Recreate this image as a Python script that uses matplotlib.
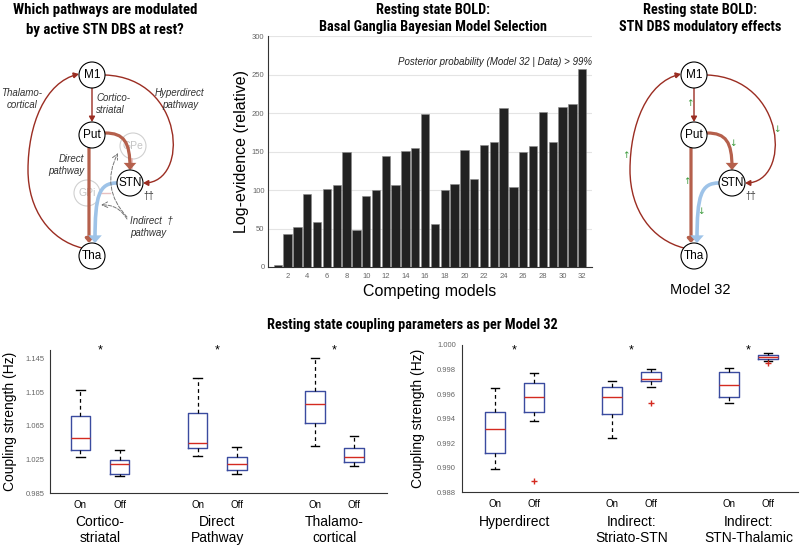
import numpy as np
import matplotlib
matplotlib.use("Agg")
import matplotlib.pyplot as plt
from matplotlib import font_manager
from matplotlib.font_manager import FontProperties
from matplotlib.patches import Circle, FancyArrowPatch
from matplotlib.path import Path

plt.rcParams["font.family"] = ["Liberation Sans", "DejaVu Sans"]

# condensed bold face for the panel titles, if one is installed
_files = [f.fname for f in font_manager.fontManager.ttflist]
_title_file, _title_scale = None, 1.0
for key, scale in [("LiberationSansNarrow-Bold.", 1.0), ("RobotoCondensed-Bold.", 1.0),
                   ("DejaVuSansCondensed-Bold.", 0.93)]:
    hits = [p for p in _files if key in p]
    if hits:
        _title_file, _title_scale = hits[0], scale
        break


def title_kw(size):
    if _title_file:
        return dict(fontproperties=FontProperties(fname=_title_file, size=size * _title_scale))
    return dict(fontweight="bold", fontsize=size * 0.85)


# ---------------- data ----------------
models = list(range(1, 33))
log_evidence = [2, 43, 52, 95, 58, 101, 106, 150, 48, 92, 100, 144, 107, 151, 155, 199,
                56, 100, 108, 152, 114, 158, 162, 207, 104, 150, 157, 202, 163, 208, 212, 257]
model_ticks = list(range(2, 33, 2))

box_positions = [1, 2, 4, 5, 7, 8]
box_ticklabels = ["On", "Off", "On", "Off", "On", "Off"]
group_centers = [1.5, 4.5, 7.5]

left_groups = ["Cortico-\nstriatal", "Direct\nPathway", "Thalamo-\ncortical"]
left_whislo = [1.0277, 1.0047, 1.0292, 1.0079, 1.0403, 1.0170]
left_q1     = [1.0367, 1.0079, 1.0383, 1.0126, 1.0680, 1.0221]
left_med    = [1.0498, 1.0190, 1.0446, 1.0190, 1.0909, 1.0280]
left_q3     = [1.0763, 1.0245, 1.0802, 1.0280, 1.1063, 1.0387]
left_whishi = [1.1075, 1.0356, 1.1217, 1.0395, 1.1454, 1.0533]
left_fliers = [[], [], [], [], [], []]
left_yticks = [0.985, 1.025, 1.065, 1.105, 1.145]

right_groups = ["Hyperdirect", "Indirect:\nStriato-STN", "Indirect:\nSTN-Thalamic"]
right_whislo = [0.98990, 0.99381, 0.99245, 0.99655, 0.99530, 0.99870]
right_q1     = [0.99118, 0.99457, 0.99438, 0.99707, 0.99574, 0.99883]
right_med    = [0.99316, 0.99579, 0.99579, 0.99726, 0.99674, 0.99900]
right_q3     = [0.99452, 0.99693, 0.99661, 0.99780, 0.99777, 0.99916]
right_whishi = [0.99647, 0.99769, 0.99704, 0.99802, 0.99810, 0.99938]
right_fliers = [[], [0.98892], [], [0.99530], [], [0.99850]]
right_yticks = [0.988, 0.990, 0.992, 0.994, 0.996, 0.998, 1.000]

# ---------------- style ----------------
BLUE = "#3a4b9f"
RED = "#d42a20"
DARKRED = "#9b2d22"
THICK = "#b5604c"
LIGHTBLUE = "#9ec3e8"
GREEN = "#3a9a3a"
TICKGRAY = "#666666"

fig = plt.figure(figsize=(8, 5.49), dpi=100)

# overlay axes in pixel coordinates for diagrams and titles
ax_d = fig.add_axes([0, 0, 1, 1])
ax_d.set_xlim(0, 800)
ax_d.set_ylim(549, 0)
ax_d.axis("off")

C4 = Path.CURVE4


def curve(ax, pts, color, lw, ms, hw=0.25):
    codes = [Path.MOVETO] + [C4] * (len(pts) - 1)
    ax.add_patch(FancyArrowPatch(path=Path(pts, codes),
                                 arrowstyle=f"-|>,head_length=0.45,head_width={hw}",
                                 mutation_scale=ms, color=color, lw=lw,
                                 joinstyle="miter"))


def straight(ax, p0, p1, color, lw, ms, hw=0.25):
    ax.add_patch(FancyArrowPatch(p0, p1, arrowstyle=f"-|>,head_length=0.45,head_width={hw}",
                                 mutation_scale=ms, color=color, lw=lw,
                                 shrinkA=0, shrinkB=0))


def draw_circuit(ax, dx, show_hidden):
    nodes = {"M1": (92 + dx, 75), "Put": (92 + dx, 135),
             "STN": (130 + dx, 183), "Tha": (92 + dx, 256)}
    s = lambda x, y: (x + dx, y)

    if show_hidden:
        for name, (x, y) in {"GPe": (133, 146), "GPi": (87, 193)}.items():
            ax.add_patch(Circle((x, y), 13, fc="white", ec="#d0d0d0", lw=0.8, zorder=1))
            ax.text(x, y, name, ha="center", va="center", fontsize=7.5,
                    color="#c4c4c4", zorder=1)
        ax.plot([132, 132], [159, 168], color="#e8b8b8", lw=1.2, zorder=1)
        ax.plot([101, 110], [193, 193], color="#e8c0c0", lw=1.0, zorder=1)

    # thalamo-cortical loop (two segments) and hyperdirect loop
    curve(ax, [s(82, 248), s(50, 240), s(28, 210), s(28, 170),
               s(28, 125), s(45, 82), s(79, 74)], DARKRED, 1.0, 7)
    curve(ax, [s(105, 75), s(185, 78), s(190, 183), s(143, 183)], DARKRED, 1.0, 7)
    # cortico-striatal
    straight(ax, s(92, 88), s(92, 122), DARKRED, 1.0, 7)
    # direct pathway
    straight(ax, s(89, 148), s(89, 243), THICK, 2.3, 5, 0.4)
    # striato-STN
    curve(ax, [s(105, 133), s(124, 133), s(130, 142), s(130, 170)], THICK, 2.3, 5, 0.4)
    # STN-thalamic
    curve(ax, [s(117, 183), s(99, 183), s(95, 195), s(95, 243)], LIGHTBLUE, 2.6, 5, 0.4)

    for name, (x, y) in nodes.items():
        ax.add_patch(Circle((x, y), 13, fc="white", ec="black", lw=0.8, zorder=3))
        ax.text(x, y, name, ha="center", va="center", fontsize=8.5, zorder=4)
    ax.text(143 + dx, 196, "††", fontsize=7, ha="left", va="center", color="#333333")


draw_circuit(ax_d, 0, True)
draw_circuit(ax_d, 602, False)

# labels of left diagram
lab = dict(fontsize=7, style="italic", color="#333333")
ax_d.text(22, 99, "Thalamo-\ncortical", ha="center", va="center", **lab)
ax_d.text(96, 104, "Cortico-\nstriatal", ha="left", va="center", **lab)
ax_d.text(180, 99, "Hyperdirect\npathway", ha="center", va="center", **lab)
ax_d.text(84, 165, "Direct\npathway", ha="right", va="center", **lab)
ax_d.text(130, 227, "Indirect  †\npathway", ha="left", va="center", **lab)
ax_d.annotate("", xy=(118, 153), xytext=(127, 217),
              arrowprops=dict(arrowstyle="->", ls="--", color="#777777", lw=0.7,
                              connectionstyle="arc3,rad=-0.35", shrinkA=0, shrinkB=0))
ax_d.annotate("", xy=(101, 205), xytext=(127, 219),
              arrowprops=dict(arrowstyle="->", ls="--", color="#777777", lw=0.7,
                              connectionstyle="arc3,rad=0.3", shrinkA=0, shrinkB=0))

# green modulation arrows of right diagram
for (x, y, sym) in [(690, 103, "↑"), (626, 155, "↑"), (777, 130, "↓"),
                    (733, 143, "↓"), (687, 182, "↑"), (701, 211, "↓")]:
    ax_d.text(x, y, sym, color=GREEN, fontsize=6.5, ha="center", va="center",
              family=["DejaVu Sans"])

# titles
tc = dict(ha="center", va="center")
ax_d.text(105, 10, "Which pathways are modulated", **tc, **title_kw(10.7))
ax_d.text(105, 30, "by active STN DBS at rest?", **tc, **title_kw(10.7))
ax_d.text(433, 10, "Resting state BOLD:", **tc, **title_kw(10.3))
ax_d.text(433, 27, "Basal Ganglia Bayesian Model Selection", **tc, **title_kw(10.3))
ax_d.text(700, 10, "Resting state BOLD:", **tc, **title_kw(10.3))
ax_d.text(700, 27, "STN DBS modulatory effects", **tc, **title_kw(10.3))
ax_d.text(412, 325, "Resting state coupling parameters as per Model 32", **tc, **title_kw(10.3))
ax_d.text(700, 290, "Model 32", fontsize=10.5, ha="center", va="center")

# ---------------- bar chart ----------------
ax_b = fig.add_axes([0.335, 0.5137, 0.405, 0.4203])
ax_b.bar(models, log_evidence, width=0.86, color="#222222", edgecolor="#8a8a8a", lw=0.4, zorder=3)
ax_b.set_xlim(0, 33)
ax_b.set_ylim(0, 300)
ax_b.set_xticks(model_ticks)
ax_b.set_yticks(range(0, 301, 50))
ax_b.yaxis.grid(True, color="#e4e4e4", lw=0.8)
ax_b.set_axisbelow(True)
for sp in ["top", "right"]:
    ax_b.spines[sp].set_visible(False)
for sp in ["left", "bottom"]:
    ax_b.spines[sp].set_color("#333333")
    ax_b.spines[sp].set_linewidth(0.8)
ax_b.tick_params(axis="y", length=0, labelsize=5.5, labelcolor=TICKGRAY, pad=2.5)
ax_b.tick_params(axis="x", length=0, labelsize=5.5, labelcolor=TICKGRAY, pad=4)
ax_b.set_ylabel("Log-evidence (relative)", fontsize=11.5)
ax_b.yaxis.set_label_coords(-0.06, 0.5)
ax_b.set_xlabel("Competing models", fontsize=11.5, labelpad=3)
ax_b.text(1.0, 0.89, "Posterior probability (Model 32 | Data) > 99%", transform=ax_b.transAxes,
          ha="right", va="center", fontsize=7, style="italic", color="#222222")


# ---------------- box plots ----------------
def make_stats(lo, q1, med, q3, hi, fl):
    return [dict(whislo=a, q1=b, med=c, q3=d, whishi=e, fliers=f)
            for a, b, c, d, e, f in zip(lo, q1, med, q3, hi, fl)]


def box_panel(ax, stats, groups, yticks, ylim, xlim, fmt, star_y, label_x):
    ax.bxp(stats, positions=box_positions, widths=0.5, capwidths=0.22,
           boxprops=dict(color=BLUE, lw=1.0),
           medianprops=dict(color=RED, lw=1.0),
           whiskerprops=dict(color="black", ls=(0, (3, 2.5)), lw=0.9),
           capprops=dict(color="black", lw=1.0),
           flierprops=dict(marker="+", markeredgecolor=RED, markersize=5, mew=1.0))
    ax.set_xlim(*xlim)
    ax.set_ylim(*ylim)
    ax.set_yticks(yticks)
    ax.set_yticklabels([fmt.format(v) for v in yticks])
    ax.set_xticks(box_positions)
    ax.set_xticklabels(box_ticklabels, fontsize=7)
    for sp in ["top", "right"]:
        ax.spines[sp].set_visible(False)
    for sp in ["left", "bottom"]:
        ax.spines[sp].set_color("#333333")
        ax.spines[sp].set_linewidth(0.8)
    ax.tick_params(axis="y", length=0, labelsize=5.5, labelcolor=TICKGRAY, pad=4)
    ax.tick_params(axis="x", length=0, pad=5)
    ax.set_ylabel("Coupling strength (Hz)", fontsize=10)
    ax.yaxis.set_label_coords(label_x, 0.5)
    for xc, g in zip(group_centers, groups):
        ax.annotate(g, xy=(xc, 0), xycoords=("data", "axes fraction"),
                    xytext=(0, -16), textcoords="offset points",
                    ha="center", va="top", fontsize=10)
        ax.annotate("*", xy=(xc, star_y), xycoords=("data", "axes fraction"),
                    ha="center", va="center", fontsize=9, annotation_clip=False)


ax_l = fig.add_axes([0.0625, 0.102, 0.421, 0.2605])
box_panel(ax_l, make_stats(left_whislo, left_q1, left_med, left_q3, left_whishi, left_fliers),
          left_groups, left_yticks, (0.985, 1.155), (0.22, 8.84), "{:.3f}", 1.0, -0.098)

ax_r = fig.add_axes([0.577, 0.1033, 0.42, 0.2683])
box_panel(ax_r, make_stats(right_whislo, right_q1, right_med, right_q3, right_whishi, right_fliers),
          right_groups, right_yticks, (0.988, 1.000), (0.146, 8.76), "{:.3f}", 0.965, -0.109)

fig.savefig("out.png", dpi=100)
